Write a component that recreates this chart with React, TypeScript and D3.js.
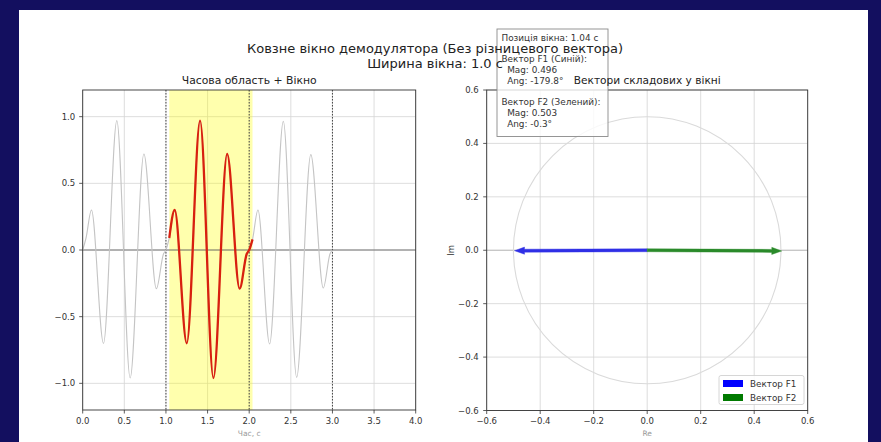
import React from "react";
import * as d3 from "d3";

const W = 881;
const H = 442;

// ---- data ----
const signalT = [0, 0.04, 0.105, 0.25, 0.41, 0.57, 0.735, 0.885, 0.97, 1.0, 1.04, 1.105, 1.25, 1.41, 1.57, 1.735, 1.885, 1.97, 2.0, 2.04, 2.105, 2.245, 2.41, 2.57, 2.74, 2.89, 2.97, 3.0];
const signalY = [0, 0.09, 0.30, -0.70, 0.97, -0.96, 0.72, -0.29, -0.03, 0, 0.09, 0.30, -0.70, 0.97, -0.96, 0.72, -0.29, -0.03, 0, 0.08, 0.30, -0.705, 0.965, -0.955, 0.715, -0.285, -0.03, 0];
const windowT = [1.04, 1.105, 1.25, 1.41, 1.57, 1.735, 1.885, 1.97, 2.0, 2.04];
const windowY = [0.09, 0.30, -0.70, 0.97, -0.96, 0.72, -0.29, -0.03, 0.0, 0.08];
const windowStart = 1.04;
const windowWidth = 1.0;
const periodMarks = [1, 2, 3];
const timeTicks = [0, 0.5, 1, 1.5, 2, 2.5, 3, 3.5, 4];
const ampTicks = [-1, -0.5, 0, 0.5, 1];
const phasorTicks = [-0.6, -0.4, -0.2, 0, 0.2, 0.4, 0.6];
const vectorNames = ["Вектор F1", "Вектор F2"];
const vectorColorNames = ["Синій", "Зелений"];
const vectorMag = [0.496, 0.503];
const vectorAngDeg = [-179.8, -0.3];
const vectorColors = ["#2f2fe6", "#2a8a2a"];
const legendColors = ["#0000ff", "#007a00"];
const circleRadius = 0.5;
const suptitleLines = ["Ковзне вікно демодулятора (Без різницевого вектора)", "Ширина вікна: 1.0 с"];
const leftTitle = "Часова область + Вікно";
const rightTitle = "Вектори складових у вікні";

const FONT = "DejaVu Sans, Verdana, sans-serif";
const fmt = (v: number) => d3.format(".1f")(v).replace("-", "\u2212");

const L = { x0: 82.7, x1: 415.7, y0: 90, y1: 410 };
const R = { x0: 486.7, x1: 807.7, y0: 90, y1: 410.5 };

export default function App() {
  const xT = d3.scaleLinear().domain([0, 4]).range([L.x0, L.x1]);
  const yA = d3.scaleLinear().domain([-1.2, 1.2]).range([L.y1, L.y0]);
  const xR = d3.scaleLinear().domain([-0.6, 0.6]).range([R.x0, R.x1]);
  const yI = d3.scaleLinear().domain([-0.6, 0.6]).range([R.y1, R.y0]);

  const line = d3
    .line<number>()
    .x((_, i) => xT(signalT[i]))
    .y((d) => yA(d))
    .curve(d3.curveMonotoneX);
  const wline = d3
    .line<number>()
    .x((_, i) => xT(windowT[i]))
    .y((d) => yA(d))
    .curve(d3.curveMonotoneX);

  const arrows = vectorMag.map((m, i) => {
    const a = (vectorAngDeg[i] * Math.PI) / 180;
    const re = m * Math.cos(a);
    const im = m * Math.sin(a);
    const sx = xR(0), sy = yI(0), ex = xR(re), ey = yI(im);
    const len = Math.hypot(ex - sx, ey - sy);
    const ux = (ex - sx) / len, uy = (ey - sy) / len;
    const nx = -uy, ny = ux;
    const hw = 1.5, HW = 3.6, HL = 10;
    const hx = ex - ux * HL, hy = ey - uy * HL;
    const pts = [
      [sx + nx * hw, sy + ny * hw],
      [hx + nx * hw, hy + ny * hw],
      [hx + nx * HW, hy + ny * HW],
      [ex, ey],
      [hx - nx * HW, hy - ny * HW],
      [hx - nx * hw, hy - ny * hw],
      [sx - nx * hw, sy - ny * hw],
    ];
    return pts.map((p) => p.join(",")).join(" ");
  });

  const boxLines: string[] = [`Позиція вікна: ${windowStart.toFixed(2)} с`];
  vectorNames.forEach((n, i) => {
    boxLines.push("");
    boxLines.push(`${n} (${vectorColorNames[i]}):`);
    boxLines.push(`  Mag: ${vectorMag[i].toFixed(3)}`);
    boxLines.push(`  Ang: ${vectorAngDeg[i].toFixed(1)}°`);
  });

  const gridC = "#d4d4d4";
  const spineC = "#333";

  return (
    <svg width={W} height={H} style={{ position: "absolute", left: 0, top: 0 }} fontFamily={FONT}>
      <rect x={0} y={0} width={W} height={H} fill="#130f5f" />
      <rect x={19} y={10} width={849} height={H - 10} fill="#ffffff" />

      {/* ---------- left panel ---------- */}
      <g>
        {timeTicks.map((t) => (
          <line key={"gx" + t} x1={xT(t)} x2={xT(t)} y1={L.y0} y2={L.y1} stroke={gridC} strokeWidth={0.8} />
        ))}
        {ampTicks.map((v) => (
          <line key={"gy" + v} x1={L.x0} x2={L.x1} y1={yA(v)} y2={yA(v)} stroke={gridC} strokeWidth={0.8} />
        ))}
        <rect
          x={xT(windowStart)}
          y={L.y0}
          width={xT(windowStart + windowWidth) - xT(windowStart)}
          height={L.y1 - L.y0}
          fill="#ffff00"
          opacity={0.32}
        />
        <line x1={L.x0} x2={L.x1} y1={yA(0)} y2={yA(0)} stroke="#666" strokeWidth={0.9} />
        {periodMarks.map((t) => (
          <line key={"pm" + t} x1={xT(t)} x2={xT(t)} y1={L.y0} y2={L.y1} stroke="#444" strokeWidth={1} strokeDasharray="1.5,1.5" />
        ))}
        <path d={line(signalY) || ""} fill="none" stroke="#c4c4c4" strokeWidth={1.1} />
        <path d={wline(windowY) || ""} fill="none" stroke="#d8200f" strokeWidth={2.3} strokeLinejoin="round" />
        <rect x={L.x0} y={L.y0} width={L.x1 - L.x0} height={L.y1 - L.y0} fill="none" stroke={spineC} strokeWidth={0.9} />
        {timeTicks.map((t) => (
          <g key={"tx" + t}>
            <line x1={xT(t)} x2={xT(t)} y1={L.y1} y2={L.y1 + 3.5} stroke={spineC} strokeWidth={0.8} />
            <text x={xT(t)} y={L.y1 + 13.5} fontSize={8.5} textAnchor="middle" fill="#333">{fmt(t)}</text>
          </g>
        ))}
        {ampTicks.map((v) => (
          <g key={"ty" + v}>
            <line x1={L.x0 - 3.5} x2={L.x0} y1={yA(v)} y2={yA(v)} stroke={spineC} strokeWidth={0.8} />
            <text x={L.x0 - 7.5} y={yA(v) + 3} fontSize={8.5} textAnchor="end" fill="#333">{fmt(v)}</text>
          </g>
        ))}
        <text x={(L.x0 + L.x1) / 2} y={84} fontSize={10.8} textAnchor="middle" fill="#222">{leftTitle}</text>
        <text x={(L.x0 + L.x1) / 2} y={436} fontSize={7.5} textAnchor="middle" fill="#999">Час, с</text>
      </g>

      {/* ---------- right panel ---------- */}
      <g>
        {phasorTicks.map((t) => (
          <line key={"rgx" + t} x1={xR(t)} x2={xR(t)} y1={R.y0} y2={R.y1} stroke={gridC} strokeWidth={0.8} />
        ))}
        {phasorTicks.map((t) => (
          <line key={"rgy" + t} x1={R.x0} x2={R.x1} y1={yI(t)} y2={yI(t)} stroke={gridC} strokeWidth={0.8} />
        ))}
        <line x1={R.x0} x2={R.x1} y1={yI(0)} y2={yI(0)} stroke="#b8b8b8" strokeWidth={0.9} />
        <ellipse
          cx={xR(0)}
          cy={yI(0)}
          rx={xR(circleRadius) - xR(0)}
          ry={yI(0) - yI(circleRadius)}
          fill="none"
          stroke="#dadada"
          strokeWidth={1.1}
        />
        {arrows.map((p, i) => (
          <polygon key={"ar" + i} points={p} fill={vectorColors[i]} stroke={vectorColors[i]} strokeWidth={0.4} />
        ))}
        <rect x={R.x0} y={R.y0} width={R.x1 - R.x0} height={R.y1 - R.y0} fill="none" stroke={spineC} strokeWidth={0.9} />
        {phasorTicks.map((t) => (
          <g key={"rtx" + t}>
            <line x1={xR(t)} x2={xR(t)} y1={R.y1} y2={R.y1 + 3.5} stroke={spineC} strokeWidth={0.8} />
            <text x={xR(t)} y={R.y1 + 13.5} fontSize={8.5} textAnchor="middle" fill="#333">{fmt(t)}</text>
          </g>
        ))}
        {phasorTicks.map((t) => (
          <g key={"rty" + t}>
            <line x1={R.x0 - 3.5} x2={R.x0} y1={yI(t)} y2={yI(t)} stroke={spineC} strokeWidth={0.8} />
            <text x={R.x0 - 8} y={yI(t) + 3} fontSize={8.5} textAnchor="end" fill="#333">{fmt(t)}</text>
          </g>
        ))}
        <text x={(R.x0 + R.x1) / 2} y={436} fontSize={7.5} textAnchor="middle" fill="#999">Re</text>
        <text transform={`translate(454, ${yI(0)}) rotate(-90)`} fontSize={8.5} textAnchor="middle" fill="#444">Im</text>

        {/* legend */}
        <rect x={719} y={375.5} width={85} height={29} rx={2} fill="#ffffff" fillOpacity={0.85} stroke="#cccccc" strokeWidth={0.8} />
        {vectorNames.map((n, i) => (
          <g key={"lg" + i}>
            <rect x={723} y={380 + i * 14} width={20} height={7} fill={legendColors[i]} />
            <text x={750} y={387 + i * 14} fontSize={8.8} fill="#333">{n}</text>
          </g>
        ))}
      </g>

      {/* ---------- annotation box ---------- */}
      <rect x={497} y={29} width={111} height={107.5} fill="#ffffff" fillOpacity={0.8} stroke="#8a8a8a" strokeWidth={0.9} />
      {boxLines.map((s, i) => (
        <text key={"bl" + i} x={501.5} y={40.5 + i * 10.8} fontSize={8.9} fill="#333" style={{ whiteSpace: "pre" }}>
          {s}
        </text>
      ))}

      <text x={(R.x0 + R.x1) / 2} y={84} fontSize={10.6} textAnchor="middle" fill="#222">{rightTitle}</text>

      {/* ---------- suptitle ---------- */}
      {suptitleLines.map((s, i) => (
        <text key={"st" + i} x={435} y={52.5 + i * 15} fontSize={13} textAnchor="middle" fill="#222">
          {s}
        </text>
      ))}
    </svg>
  );
}
